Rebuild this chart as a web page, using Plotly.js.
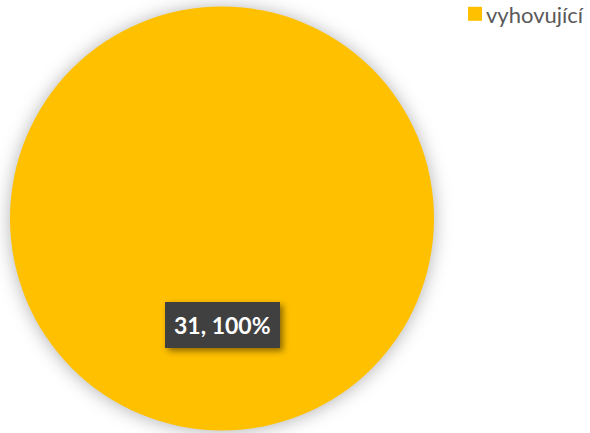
<!DOCTYPE html>
<html>
<head>
<meta charset="utf-8">
<script src="https://cdn.plot.ly/plotly-3.0.1.min.js"></script>
<style>
html, body { margin: 0; padding: 0; background: #ffffff; }
#chart { width: 590px; height: 433px; }
.pielayer { filter: drop-shadow(0px 1px 9px rgba(0,0,0,0.30)); }
.annotation rect.bg { filter: drop-shadow(3px 3px 3px rgba(0,0,0,0.45)); }
.legend .legendpie { transform: translate(29px, -1px) scale(1.17); }
</style>
</head>
<body>
<div id="chart"></div>
<script>
var categories = ["vyhovující"];
var values = [31];
var colors = ["#FFC000"];

var total = values.reduce(function (a, b) { return a + b; }, 0);
var pct = Math.round(values[0] / total * 100);

var W = 590, H = 433;
var domX = [10 / W, 434 / W];
var domY = [1 - 431 / H, 1 - 6 / H];

var trace = {
  type: "pie",
  labels: categories,
  values: values,
  marker: { colors: colors, line: { width: 0 } },
  textinfo: "none",
  hoverinfo: "label+value+percent",
  sort: false,
  direction: "clockwise",
  domain: { x: domX, y: domY },
  showlegend: true
};

var layout = {
  width: W,
  height: H,
  margin: { l: 0, r: 0, t: 0, b: 0, pad: 0, autoexpand: false },
  paper_bgcolor: "#ffffff",
  plot_bgcolor: "#ffffff",
  showlegend: true,
  legend: {
    x: 446 / W,
    y: 1 + 6 / H,
    xanchor: "left",
    yanchor: "top",
    bgcolor: "rgba(0,0,0,0)",
    font: { family: "Lato, 'Open Sans', sans-serif", size: 22, color: "#595959" }
  },
  annotations: [{
    xref: "paper",
    yref: "paper",
    x: 222 / W,
    y: 1 - 325 / H,
    xanchor: "center",
    yanchor: "middle",
    showarrow: false,
    text: "<b>" + values[0] + ", " + pct + "%</b>",
    font: { family: "Lato, 'Open Sans', sans-serif", size: 23, color: "#ffffff" },
    bgcolor: "#404040",
    borderpad: 9,
    borderwidth: 0
  }]
};

Plotly.newPlot("chart", [trace], layout, { displayModeBar: false, staticPlot: true });
</script>
</body>
</html>
